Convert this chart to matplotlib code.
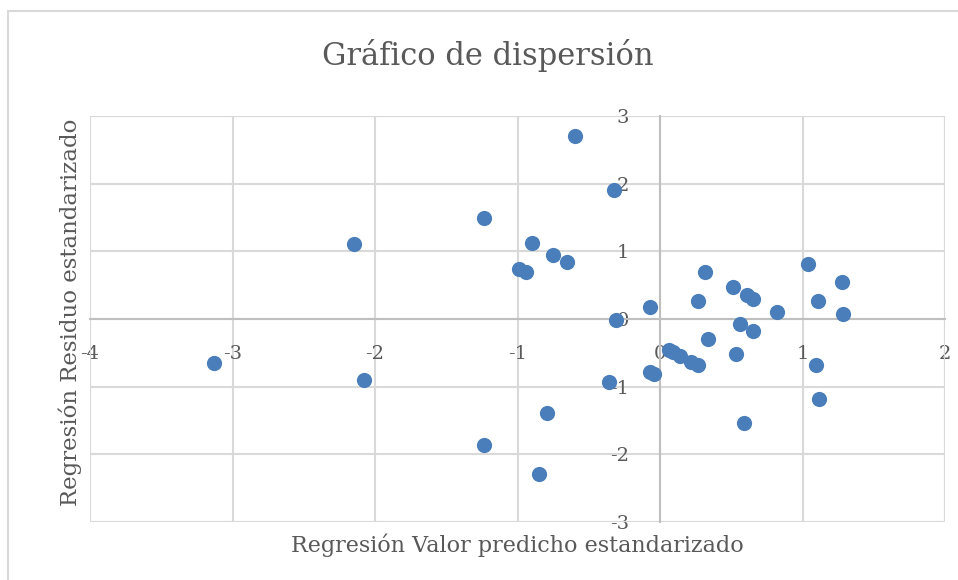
"""
Gráfico de dispersión de residuos estandarizados frente a valores predichos.
"""

import matplotlib.pyplot as plt
from matplotlib.patches import Rectangle

# Valor predicho estandarizado (x) y residuo estandarizado (y)
predicho = [
    -3.13, -2.15, -2.08, -1.235, -1.235, -0.60, -0.325, -0.90, -0.99, -0.94,
    -0.75, -0.65, -0.31, -0.07, 0.315, 0.27, 0.51, 0.61, 0.655, 0.82,
    1.04, 1.11, 1.28, 1.285, 0.56, 0.65, 0.34, 0.065, 0.09, 0.14,
    0.22, 0.27, -0.07, -0.04, -0.36, 0.53, 1.095, 1.115, 0.587, -0.795,
    -0.85,
]
residuo = [
    -0.65, 1.11, -0.90, 1.50, -1.86, 2.70, 1.90, 1.12, 0.74, 0.69,
    0.945, 0.84, -0.02, 0.17, 0.69, 0.27, 0.47, 0.36, 0.30, 0.11,
    0.82, 0.27, 0.55, 0.07, -0.07, -0.17, -0.29, -0.46, -0.49, -0.55,
    -0.64, -0.68, -0.79, -0.82, -0.93, -0.51, -0.675, -1.18, -1.54, -1.39,
    -2.29,
]
x_ticks = [-4, -3, -2, -1, 0, 1, 2]
y_ticks = [-3, -2, -1, 0, 1, 2, 3]

plt.rcParams["axes.unicode_minus"] = False

FONT = ["DejaVu Serif"]
TEXT_COLOR = "#595959"
GRID_COLOR = "#D9D9D9"
AXIS_COLOR = "#BFBFBF"

fig = plt.figure(figsize=(9.58, 5.80), dpi=100)
ax = fig.add_axes([90 / 958, 0.1, 855 / 958, 0.7])

# Chart border (cut off at the right and bottom edges)
fig.patches.append(
    Rectangle((8 / 958, -0.5), 1.5, 1.5 - 11 / 580, transform=fig.transFigure,
              fill=False, edgecolor=GRID_COLOR, linewidth=1.5)
)

ax.scatter(predicho, residuo, s=120, color="#4A7EBB", zorder=3, linewidths=0)

ax.set_xlim(-4, 2)
ax.set_ylim(-3, 3)
ax.set_xticks(x_ticks)
ax.set_yticks(y_ticks)
ax.grid(True, color=GRID_COLOR, linewidth=1.5)
ax.set_axisbelow(True)

# Outer frame of the plot area
ax.add_patch(
    Rectangle((0, 0), 1, 1, transform=ax.transAxes, fill=False,
              edgecolor=GRID_COLOR, linewidth=1.5, zorder=1)
)

for side in ["top", "right"]:
    ax.spines[side].set_visible(False)
for side in ["left", "bottom"]:
    ax.spines[side].set_position(("data", 0))
    ax.spines[side].set_color(AXIS_COLOR)
    ax.spines[side].set_linewidth(1.5)
    ax.spines[side].set_zorder(2)

ax.tick_params(axis="both", length=0, labelsize=14, labelcolor=TEXT_COLOR)
ax.tick_params(axis="x", pad=19)
ax.tick_params(axis="y", pad=22)
for label in ax.get_xticklabels() + ax.get_yticklabels():
    label.set_family(FONT)

fig.text(488 / 958, 1 - 56 / 580, "Gráfico de dispersión", ha="center",
         va="center", fontsize=22, color=TEXT_COLOR, family=FONT)
fig.text(517 / 958, 1 - 545 / 580, "Regresión Valor predicho estandarizado",
         ha="center", va="center", fontsize=16, color=TEXT_COLOR, family=FONT)
fig.text(70 / 958, 1 - 312 / 580, "Regresión Residuo estandarizado",
         ha="center", va="center", rotation=90, fontsize=16.5,
         color=TEXT_COLOR, family=FONT)

fig.savefig("out.png", dpi=100)
